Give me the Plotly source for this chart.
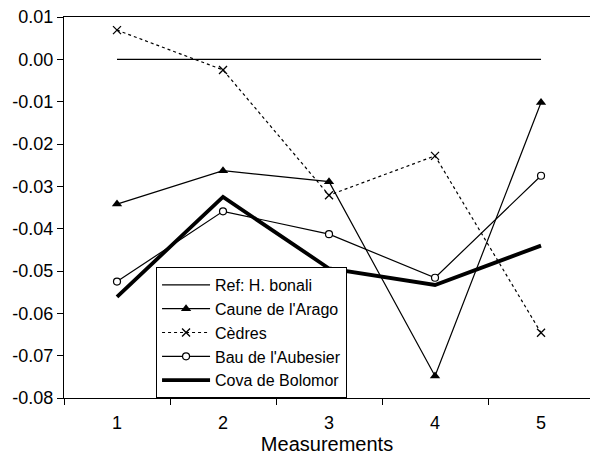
import plotly.graph_objects as go

categories = ["1", "2", "3", "4", "5"]
ref_bonali = [0.0, 0.0, 0.0, 0.0, 0.0]
caune_arago = [-0.0342, -0.0263, -0.0289, -0.0748, -0.0102]
cedres = [0.0069, -0.0025, -0.0321, -0.0228, -0.0646]
bau_aubesier = [-0.0525, -0.0359, -0.0413, -0.0516, -0.0275]
cova_bolomor = [-0.0561, -0.0325, -0.0494, -0.0533, -0.0440]

y_tickvals = [0.01, 0.0, -0.01, -0.02, -0.03, -0.04, -0.05, -0.06, -0.07, -0.08]
y_ticktext = ["0.01", "0.00", "-0.01", "-0.02", "-0.03", "-0.04", "-0.05", "-0.06", "-0.07", "-0.08"]

FONT = "Liberation Sans, Arial, sans-serif"

fig = go.Figure()
fig.add_trace(go.Scatter(x=categories, y=ref_bonali, name="Ref: H. bonali", mode="lines",
                         line=dict(color="black", width=1.2)))
fig.add_trace(go.Scatter(x=categories, y=caune_arago, name="Caune de l'Arago", mode="lines+markers",
                         line=dict(color="black", width=1.2),
                         marker=dict(symbol="triangle-up", size=9, color="black")))
fig.add_trace(go.Scatter(x=categories, y=cedres, name="Cèdres", mode="lines+markers",
                         line=dict(color="black", width=1.2, dash="3px,3px"),
                         marker=dict(symbol="x-thin", size=8, color="black",
                                     line=dict(color="black", width=1.3))))
fig.add_trace(go.Scatter(x=categories, y=bau_aubesier, name="Bau de l'Aubesier", mode="lines+markers",
                         line=dict(color="black", width=1.2),
                         marker=dict(symbol="circle", size=7, color="white",
                                     line=dict(color="black", width=1.2))))
fig.add_trace(go.Scatter(x=categories, y=cova_bolomor, name="Cova de Bolomor", mode="lines",
                         line=dict(color="black", width=3.8)))

fig.update_layout(
    width=590, height=456,
    margin=dict(l=64, r=0, t=17, b=58, autoexpand=False),
    paper_bgcolor="white", plot_bgcolor="white",
    font=dict(family=FONT, size=16, color="black"),
    showlegend=True,
    legend=dict(x=0.175, y=0.0, xanchor="left", yanchor="bottom",
                bordercolor="black", borderwidth=1, bgcolor="white",
                font=dict(family=FONT, size=16), tracegroupgap=0,
                itemwidth=48),
)
fig.update_xaxes(
    type="category", range=[-0.5, 4.462], automargin=False,
    showgrid=False, zeroline=False,
    showline=True, linecolor="black", linewidth=1.3, mirror=True,
    ticks="outside", tickson="boundaries", ticklen=6, tickcolor="black", tickwidth=1.3,
    tickfont=dict(size=18), ticklabelstandoff=8,
    title=dict(text="Measurements", font=dict(size=20), standoff=4),
)
fig.update_yaxes(
    range=[-0.08, 0.01], tickvals=y_tickvals, ticktext=y_ticktext, automargin=False,
    showgrid=False, zeroline=False,
    showline=True, linecolor="black", linewidth=1.3, mirror=False,
    ticks="outside", ticklen=6, tickcolor="black", tickwidth=1.3,
    tickfont=dict(size=18),
)

fig.write_html("out.html", config={"displayModeBar": False},
               post_script="document.body.style.margin='0';document.body.style.padding='0';")
